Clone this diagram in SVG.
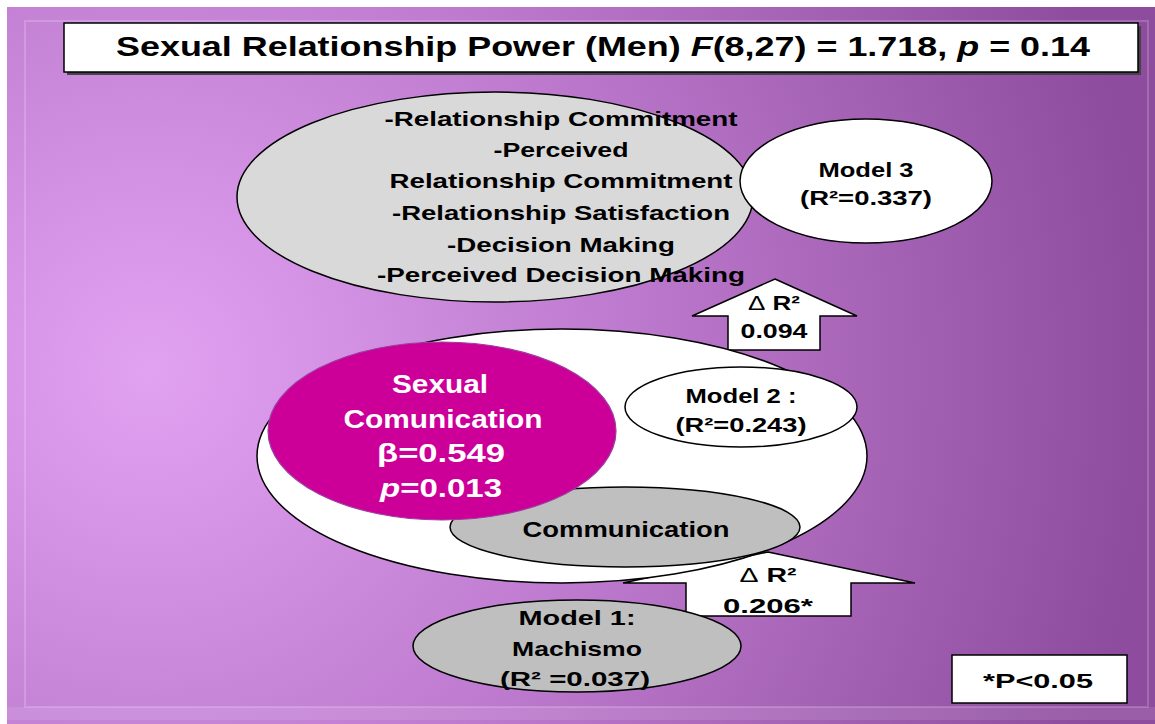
<svg xmlns="http://www.w3.org/2000/svg" width="1155" height="724" viewBox="0 0 1155 724">
<defs>
<radialGradient id="bg" cx="150" cy="370" r="1000" gradientUnits="userSpaceOnUse">
<stop offset="0" stop-color="#e2a2f2"/>
<stop offset="0.45" stop-color="#bf7cd0"/>
<stop offset="1" stop-color="#8e4c9e"/>
</radialGradient>
<style>
.t{font-family:"Liberation Sans",Arial,sans-serif;font-weight:bold;fill:#000;text-anchor:middle}
.w{fill:#fff}
.ln{stroke:#000;stroke-width:1.5}
.d{font-weight:normal}
</style>
</defs>
<rect x="0" y="0" width="1155" height="724" fill="#fff"/>
<rect x="7" y="7" width="1148" height="717" fill="url(#bg)"/>
<rect x="25" y="21" width="1123" height="686" fill="none" stroke="#fff" stroke-opacity="0.18" stroke-width="2"/>
<rect x="7" y="707" width="1148" height="13" fill="#fff" fill-opacity="0.1"/>

<g id="title">
<rect x="67" y="26" width="1074" height="49" fill="#444"/>
<rect x="64" y="23" width="1074" height="49" fill="#fff" class="ln"/>
<text class="t" x="603" y="56" font-size="28" textLength="974" lengthAdjust="spacingAndGlyphs">Sexual Relationship Power (Men) <tspan font-style="italic">F</tspan>(8,27) = 1.718, <tspan font-style="italic">p</tspan> = 0.14</text>
</g>

<g id="connectors">
<g id="arrow-up-1">
<path d="M775,279 L857,316 L820,316 L820,350 L728,350 L728,316 L692,316 Z" fill="#fff" class="ln"/>
</g>
<g id="arrow-up-2">
<path d="M768,552 L915,583 L851,583 L851,616 L686,616 L686,583 L623,583 Z" fill="#fff" class="ln"/>
</g>
</g>

<g id="model3-vars">
<ellipse cx="495" cy="197" rx="258" ry="105" fill="#d9d9d9" class="ln"/>
<text class="t" font-size="21" x="561" y="126" textLength="353" lengthAdjust="spacingAndGlyphs">-Relationship Commitment</text>
<text class="t" font-size="21" x="561" y="157" textLength="135" lengthAdjust="spacingAndGlyphs">-Perceived</text>
<text class="t" font-size="21" x="561" y="188" textLength="343" lengthAdjust="spacingAndGlyphs">Relationship Commitment</text>
<text class="t" font-size="21" x="561" y="220" textLength="338" lengthAdjust="spacingAndGlyphs">-Relationship Satisfaction</text>
<text class="t" font-size="21" x="561" y="252" textLength="228" lengthAdjust="spacingAndGlyphs">-Decision Making</text>
<text class="t" font-size="21" x="561" y="282" textLength="368" lengthAdjust="spacingAndGlyphs">-Perceived Decision Making</text>
</g>

<g id="model3">
<ellipse cx="866" cy="181" rx="126" ry="62" fill="#fff" class="ln"/>
<text class="t" font-size="20" x="866" y="177" textLength="95" lengthAdjust="spacingAndGlyphs">Model 3</text>
<text class="t" font-size="20" x="866" y="205" textLength="132" lengthAdjust="spacingAndGlyphs">(R²=0.337)</text>
</g>

<g id="model2-block">
<ellipse cx="562" cy="456" rx="305" ry="127" fill="#fff" class="ln"/>
</g>

<g id="communication">
<ellipse cx="625" cy="527" rx="175" ry="40" fill="#bfbfbf" class="ln"/>
<text class="t" font-size="22" x="626" y="537" textLength="207" lengthAdjust="spacingAndGlyphs">Communication</text>
</g>

<g id="sexual-communication">
<ellipse cx="442" cy="431" rx="174" ry="89" fill="#cc0099" stroke="#9b3d9f" stroke-width="1.2"/>
<text class="t w" font-size="26" x="440" y="393" textLength="96" lengthAdjust="spacingAndGlyphs">Sexual</text>
<text class="t w" font-size="26" x="443" y="428" textLength="199" lengthAdjust="spacingAndGlyphs">Comunication</text>
<text class="t w" font-size="26" x="441" y="462" textLength="128" lengthAdjust="spacingAndGlyphs">β=0.549</text>
<text class="t w" font-size="26" x="441" y="497" textLength="122" lengthAdjust="spacingAndGlyphs"><tspan font-style="italic">p</tspan>=0.013</text>
</g>

<g id="model2">
<ellipse cx="741" cy="407" rx="116" ry="40" fill="#fff" class="ln"/>
<text class="t" font-size="20" x="741" y="403" textLength="111" lengthAdjust="spacingAndGlyphs">Model 2 :</text>
<text class="t" font-size="20" x="741" y="432" textLength="131" lengthAdjust="spacingAndGlyphs">(R²=0.243)</text>
</g>

<g id="model1">
<ellipse cx="577" cy="646" rx="164" ry="46" fill="#bfbfbf" class="ln"/>
<text class="t" font-size="21" x="577" y="625" textLength="117" lengthAdjust="spacingAndGlyphs">Model 1:</text>
<text class="t" font-size="21" x="577" y="656" textLength="130" lengthAdjust="spacingAndGlyphs">Machismo</text>
<text class="t" font-size="21" x="575" y="686" textLength="150" lengthAdjust="spacingAndGlyphs">(R² =0.037)</text>
</g>

<g id="arrow-labels">
<text class="t" font-size="21" x="774" y="310" textLength="52" lengthAdjust="spacingAndGlyphs"><tspan class="d">Δ</tspan> R²</text>
<text class="t" font-size="21" x="774" y="338" textLength="67" lengthAdjust="spacingAndGlyphs">0.094</text>
<text class="t" font-size="21" x="768" y="582" textLength="57" lengthAdjust="spacingAndGlyphs"><tspan class="d">Δ</tspan> R²</text>
<text class="t" font-size="21" x="768" y="613" textLength="90" lengthAdjust="spacingAndGlyphs">0.206*</text>
</g>

<g id="legend">
<rect x="952" y="655" width="175" height="48" fill="#fff" class="ln"/>
<text class="t" font-size="21" x="1038" y="688" textLength="110" lengthAdjust="spacingAndGlyphs">*P&lt;0.05</text>
</g>
</svg>
